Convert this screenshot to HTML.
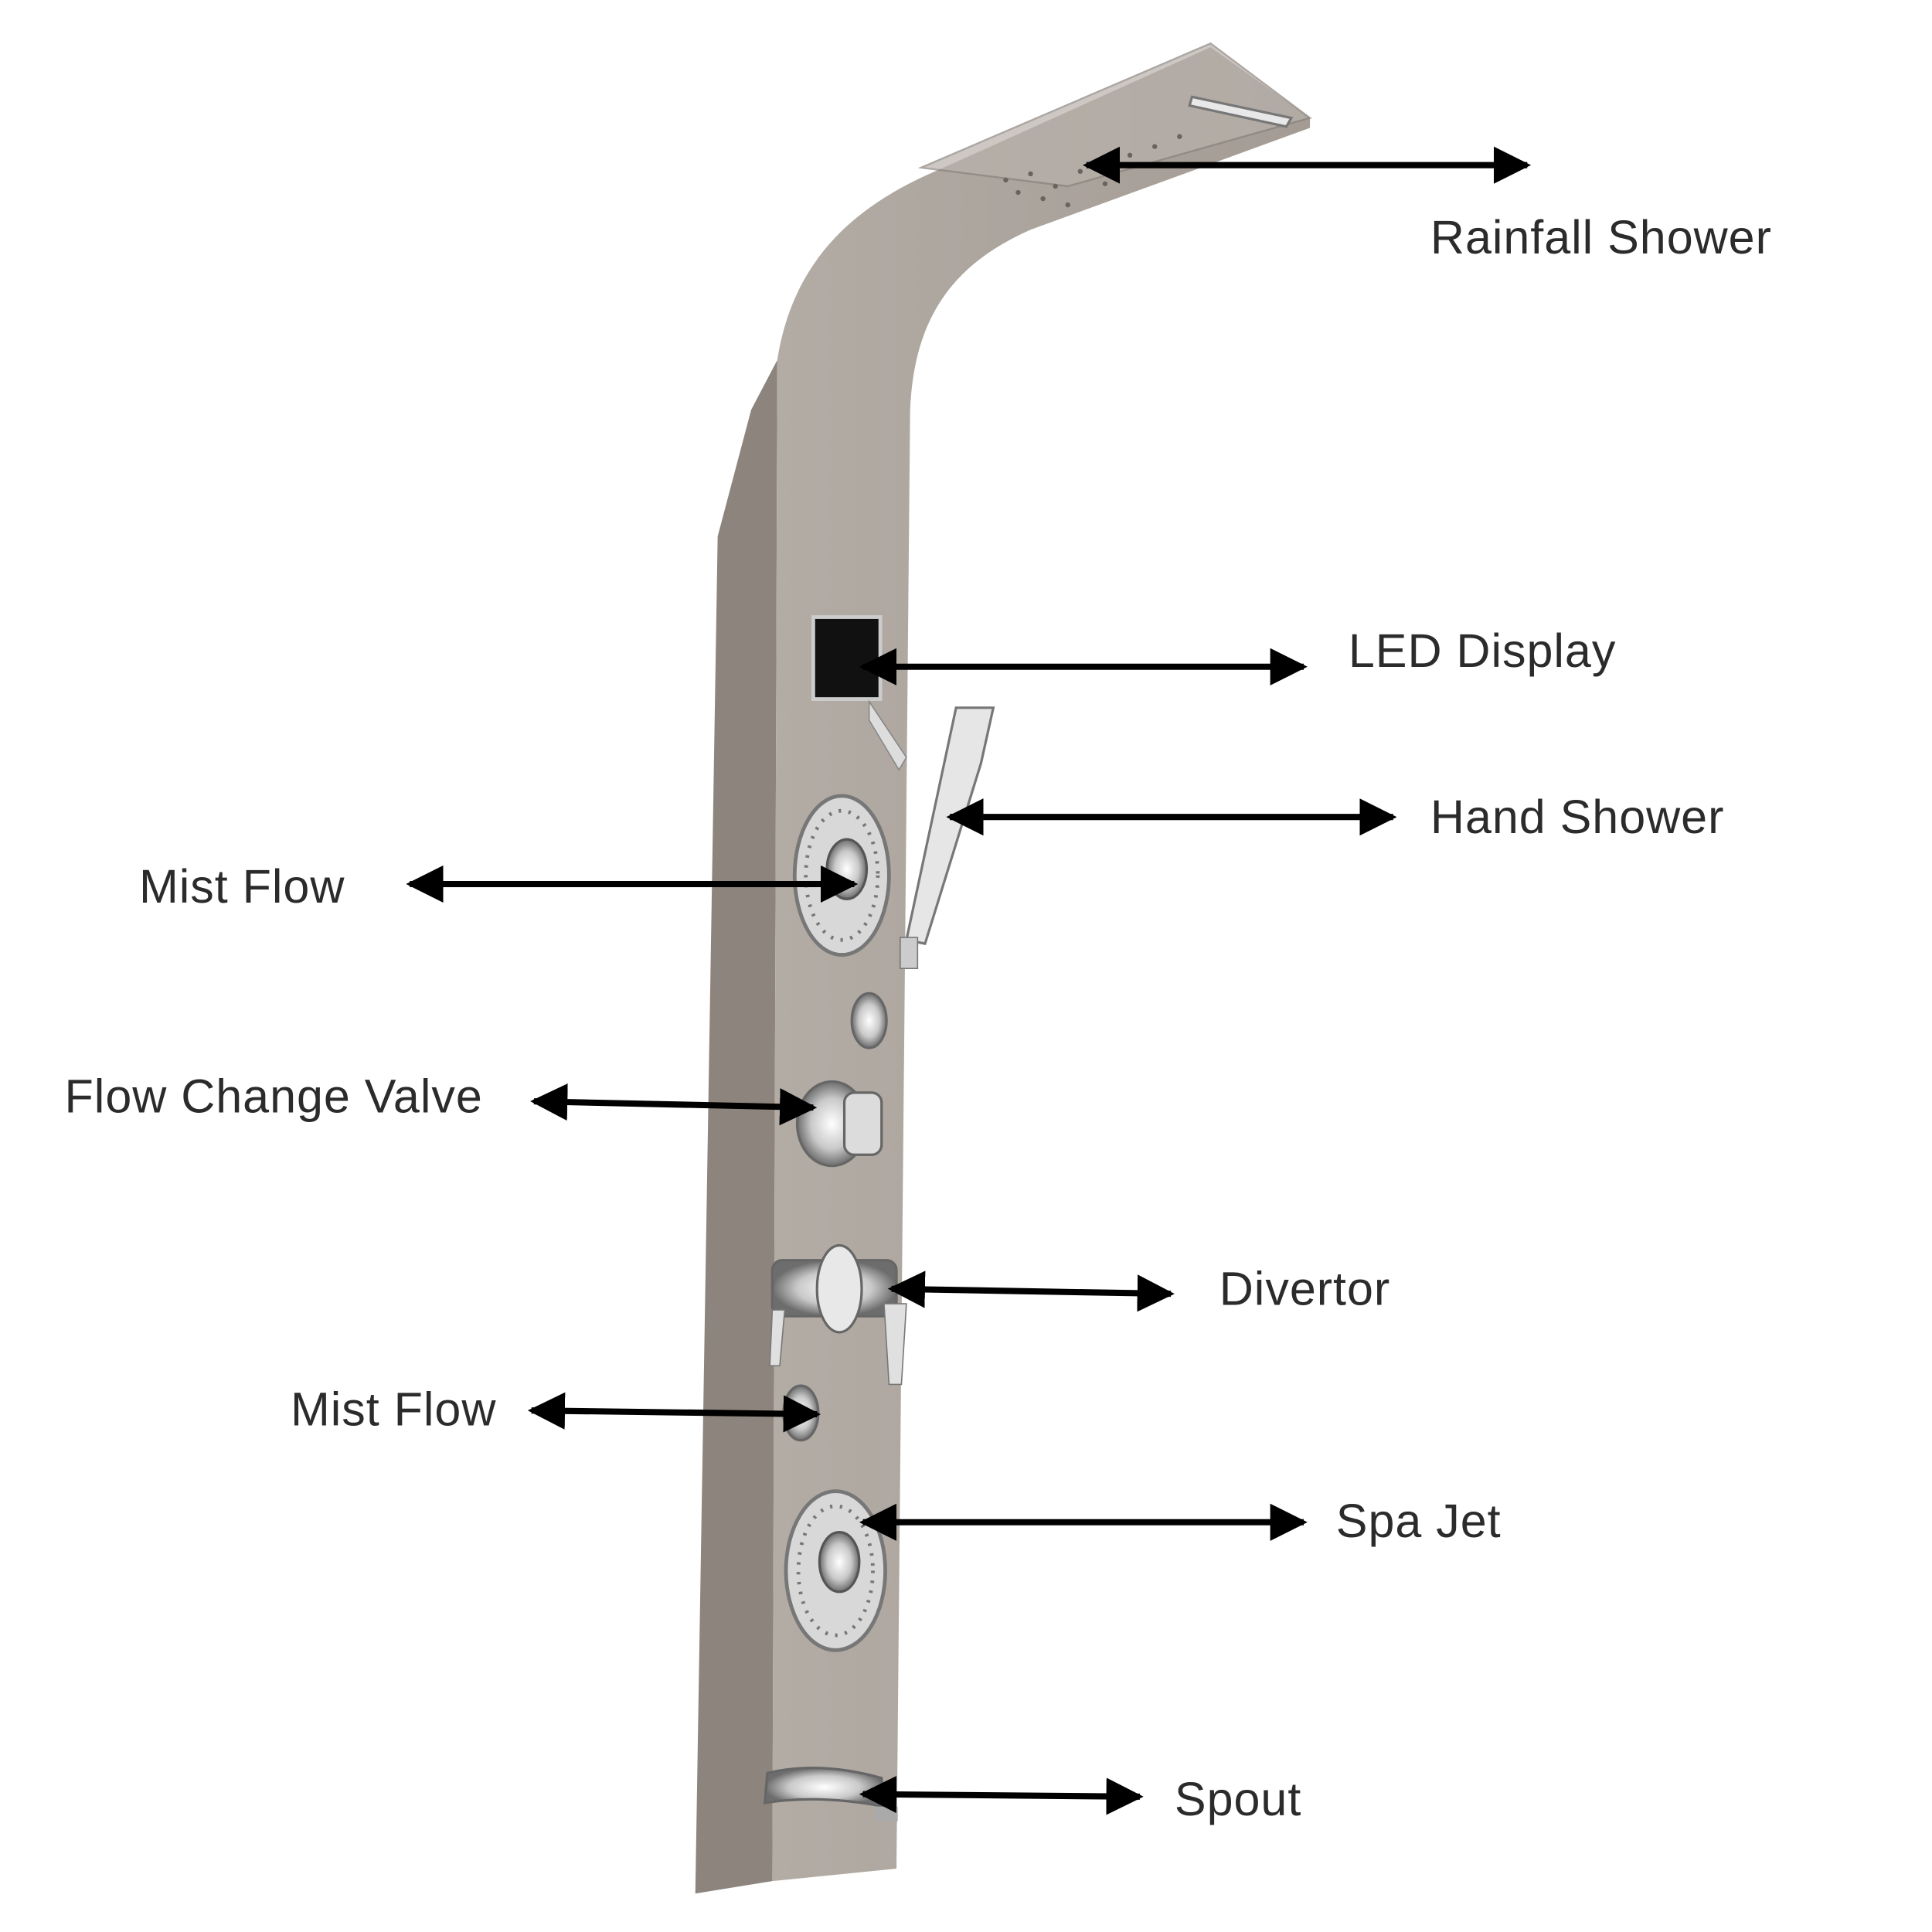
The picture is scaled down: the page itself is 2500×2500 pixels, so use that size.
<!DOCTYPE html>
<html><head><meta charset="utf-8"><style>
html,body{margin:0;padding:0;background:#fff;width:2500px;height:2500px;overflow:hidden}
svg{display:block}
text{font-family:"Liberation Sans",sans-serif;font-size:38px;fill:#2b2b2b;letter-spacing:0.6px}
</style></head><body>
<svg width="2500" height="2500" viewBox="0 0 1556 1556" xmlns="http://www.w3.org/2000/svg">
<defs>
<marker id="ah" viewBox="0 0 10 10" refX="9" refY="5" markerWidth="6" markerHeight="7" markerUnits="strokeWidth" orient="auto-start-reverse">
<path d="M0,0 L10,5 L0,10 z" fill="#000"/></marker>
<linearGradient id="front" x1="0" x2="1"><stop offset="0" stop-color="#b3aca5"/><stop offset="1" stop-color="#a39b94"/></linearGradient>
<radialGradient id="chrome"><stop offset="0" stop-color="#fff"/><stop offset="0.6" stop-color="#c9c9c9"/><stop offset="1" stop-color="#6d6d6d"/></radialGradient>
</defs>
<path d="M560 1525 L578 432 L605 330 L626 290 L622 1515 Z" fill="#8c847d"/>
<path d="M622 1515 L626 290 C640 200 700 160 760 135 L975 38 L1055 95 L1055 103 L830 185 C762 215 736 262 733 330 L722 1505 Z" fill="url(#front)"/>
<path d="M742 135 L975 35 L1055 95 L860 150 Z" fill="#b9b2ac" opacity="0.7" stroke="#8a837d" stroke-width="1.5"/>
<path d="M960 78 L1040 95 L1036 102 L958 85 Z" fill="#e8e8e8" stroke="#777" stroke-width="2"/>
<g fill="#6b645e">
<circle cx="810" cy="145" r="2"/><circle cx="830" cy="140" r="2"/><circle cx="850" cy="150" r="2"/><circle cx="870" cy="138" r="2"/><circle cx="890" cy="148" r="2"/><circle cx="910" cy="125" r="2"/><circle cx="930" cy="118" r="2"/><circle cx="950" cy="110" r="2"/><circle cx="840" cy="160" r="2"/><circle cx="860" cy="165" r="2"/><circle cx="900" cy="130" r="2"/><circle cx="820" cy="155" r="2"/></g>
<rect x="655" y="497" width="54" height="66" fill="#111" stroke="#ccc" stroke-width="3"/>
<path d="M700 565 L730 610 L724 620 L700 580 Z" fill="#ddd" stroke="#888"/>
<path d="M770 570 L800 570 L790 615 L745 760 L730 757 Z" fill="#e6e6e6" stroke="#777" stroke-width="2"/>
<rect x="725" y="755" width="14" height="25" fill="#ccc" stroke="#777"/>
<ellipse cx="678" cy="705" rx="38" ry="64" fill="#d8d8d8" stroke="#777" stroke-width="3"/>
<ellipse cx="678" cy="705" rx="29" ry="52" fill="none" stroke="#777" stroke-width="3" stroke-dasharray="2 6"/>
<ellipse cx="682" cy="700" rx="16" ry="24" fill="url(#chrome)" stroke="#555" stroke-width="2"/>
<ellipse cx="673" cy="1265" rx="40" ry="64" fill="#d8d8d8" stroke="#777" stroke-width="3"/>
<ellipse cx="673" cy="1265" rx="30" ry="52" fill="none" stroke="#777" stroke-width="3" stroke-dasharray="2 6"/>
<ellipse cx="676" cy="1258" rx="16" ry="24" fill="url(#chrome)" stroke="#555" stroke-width="2"/>
<ellipse cx="700" cy="822" rx="14" ry="22" fill="url(#chrome)" stroke="#666" stroke-width="2"/>
<ellipse cx="645" cy="1138" rx="14" ry="22" fill="url(#chrome)" stroke="#666" stroke-width="2"/>
<ellipse cx="670" cy="905" rx="28" ry="34" fill="url(#chrome)" stroke="#666" stroke-width="2"/>
<rect x="680" y="880" width="30" height="50" rx="8" fill="#dcdcdc" stroke="#666" stroke-width="2"/>
<rect x="622" y="1015" width="100" height="45" rx="8" fill="url(#chrome)" stroke="#666" stroke-width="2"/>
<ellipse cx="676" cy="1038" rx="18" ry="35" fill="#e8e8e8" stroke="#666" stroke-width="2"/>
<path d="M712 1050 L730 1050 L726 1115 L716 1115 Z" fill="#e0e0e0" stroke="#777"/>
<path d="M622 1055 L632 1055 L628 1100 L620 1100 Z" fill="#e0e0e0" stroke="#777"/>
<path d="M618 1428 Q660 1418 710 1432 L712 1455 Q660 1445 616 1452 Z" fill="url(#chrome)" stroke="#666" stroke-width="2"/>
<rect x="705" y="1455" width="18" height="12" fill="#aaa"/>
<g stroke="#000" stroke-width="5" marker-start="url(#ah)" marker-end="url(#ah)">
<line x1="875" y1="133" x2="1230" y2="133"/>
<line x1="695" y1="537" x2="1050" y2="537"/>
<line x1="765" y1="658" x2="1122" y2="658"/>
<line x1="330" y1="712" x2="688" y2="712"/>
<line x1="430" y1="887" x2="655" y2="892"/>
<line x1="718" y1="1038" x2="943" y2="1042"/>
<line x1="428" y1="1136" x2="658" y2="1139"/>
<line x1="695" y1="1226" x2="1050" y2="1226"/>
<line x1="695" y1="1445" x2="918" y2="1447"/>
</g>
<text x="1152" y="204">Rainfall Shower</text>
<text x="1086" y="537">LED Display</text>
<text x="1152" y="671">Hand Shower</text>
<text x="112" y="727">Mist Flow</text>
<text x="52" y="896">Flow Change Valve</text>
<text x="982" y="1051">Divertor</text>
<text x="234" y="1148">Mist Flow</text>
<text x="1076" y="1238">Spa Jet</text>
<text x="946" y="1462">Spout</text>
</svg>
</body></html>
